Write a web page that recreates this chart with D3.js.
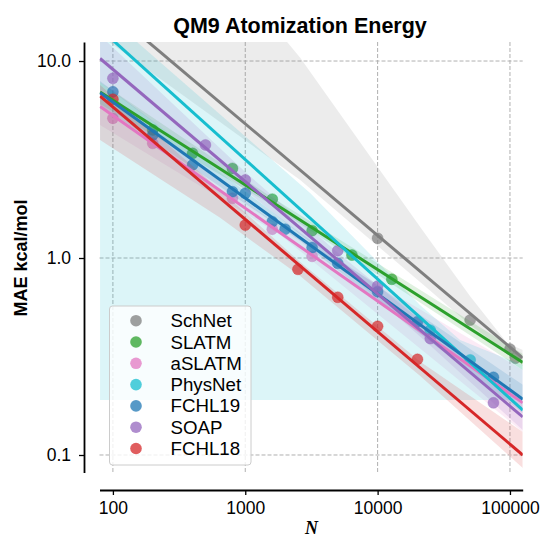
<!DOCTYPE html>
<html>
<head>
<meta charset="utf-8">
<script src="https://cdn.jsdelivr.net/npm/d3@7"></script>
<style>
  body { margin: 0; background: #fff; }
  svg { display: block; }
  text { font-family: 'Liberation Sans', Arial, sans-serif; }
</style>
</head>
<body>
<div id="app"></div>
<script>
// --- data ---
const methods = ['SchNet', 'SLATM', 'aSLATM', 'PhysNet', 'FCHL19', 'SOAP', 'FCHL18'];
const colors = ['#7f7f7f', '#2ca02c', '#e377c2', '#17becf', '#1f77b4', '#9467bd', '#d62728'];

const xTicks = [100, 1000, 10000, 100000];
const yTicks = [0.1, 1, 10];

// training set sizes / MAE (kcal/mol) per method
const schnetN = [10000, 50000, 100000, 110000];
const schnetMAE = [1.26, 0.484, 0.345, 0.31];
const slatmN = [200, 400, 800, 1600, 3200, 6400, 12800];
const slatmMAE = [4.47, 3.4, 2.85, 1.99, 1.376, 1.035, 0.78];
const aslatmN = [100, 200, 800, 1600, 3200];
const aslatmMAE = [5.12, 3.82, 2.01, 1.40, 1.02];
const physnetN = [25000, 50000];
const physnetMAE = [0.43, 0.304];
const fchl19N = [100, 200, 400, 800, 1000, 1600, 2000, 3200, 5000, 10000, 20000, 75000];
const fchl19MAE = [6.98, 4.21, 2.97, 2.17, 2.13, 1.53, 1.40, 1.13, 0.94, 0.675, 0.475, 0.248];
const soapN = [100, 500, 1000, 5000, 10000, 25000, 75000];
const soapMAE = [8.17, 3.75, 2.49, 1.09, 0.72, 0.39, 0.184];
const fchl18N = [100, 1000, 2500, 5000, 10000, 20000];
const fchl18MAE = [6.4, 1.47, 0.876, 0.632, 0.45, 0.306];

// fitted learning curves: MAE at N = 80 and N = 125000
const fitN = [80, 125000];
const fitMAE = [
  [20.1, 0.311],
  [6.96, 0.295],
  [5.88, 0.184],
  [14.6, 0.169],
  [6.9, 0.192],
  [10.3, 0.156],
  [6.64, 0.1]
];

// confidence bands: N, lower, upper
const schnetBandN = [80, 2070, 2600, 21700, 50000, 95000, 125000];
const schnetBandLo = [13.5, 2.78, 2.49, 0.74, 0.457, 0.333, 0.283];
const schnetBandHi = [200, 12.5, 10.4, 1.39, 0.64, 0.37, 0.341];
const slatmBandN = [80, 1540, 125000];
const slatmBandLo = [6.05, 1.88, 0.27];
const slatmBandHi = [7.8, 2.06, 0.326];
const aslatmBandN = [80, 1840, 125000];
const aslatmBandLo = [4.73, 1.31, 0.131];
const aslatmBandHi = [6.96, 1.44, 0.27];
const physnetBandN = [80, 3090, 20900, 42000, 125000];
const physnetBandLo = [0.19, 0.19, 0.19, 0.19, 0.19];
const physnetBandHi = [18.2, 2.14, 0.577, 0.384, 0.286];
const fchl19BandN = [80, 2600, 125000];
const fchl19BandLo = [5.98, 1.22, 0.163];
const fchl19BandHi = [7.92, 1.34, 0.227];
const soapBandN = [80, 1000, 5200, 25000, 125000];
const soapBandLo = [7.8, 2.21, 0.91, 0.36, 0.134];
const soapBandHi = [13.5, 2.73, 1.04, 0.44, 0.186];
const fchl18BandN = [80, 646, 2600, 21000, 125000];
const fchl18BandLo = [3.97, 1.6, 0.81, 0.252, 0.086];
const fchl18BandHi = [7.55, 2.21, 0.954, 0.297, 0.131];

const pointsN = [schnetN, slatmN, aslatmN, physnetN, fchl19N, soapN, fchl18N];
const pointsMAE = [schnetMAE, slatmMAE, aslatmMAE, physnetMAE, fchl19MAE, soapMAE, fchl18MAE];
const bandN = [schnetBandN, slatmBandN, aslatmBandN, physnetBandN, fchl19BandN, soapBandN, fchl18BandN];
const bandLo = [schnetBandLo, slatmBandLo, aslatmBandLo, physnetBandLo, fchl19BandLo, soapBandLo, fchl18BandLo];
const bandHi = [schnetBandHi, slatmBandHi, aslatmBandHi, physnetBandHi, fchl19BandHi, soapBandHi, fchl18BandHi];

const series = methods.map((name, i) => ({
  name,
  color: colors[i],
  points: pointsN[i].map((n, j) => ({ n, mae: pointsMAE[i][j] })),
  fit: fitN.map((n, j) => ({ n, mae: fitMAE[i][j] })),
  band: bandN[i].map((n, j) => ({ n, lo: bandLo[i][j], hi: bandHi[i][j] }))
}));

// --- layout ---
const width = 543, height = 537;
const plot = { left: 99.5, right: 522.7, top: 42, bottom: 472.5 };

const svg = d3.select('#app').append('svg')
  .attr('width', width)
  .attr('height', height);

const x = d3.scaleLog().domain([79.2, 124800]).range([plot.left, plot.right]);
const y = d3.scaleLog().domain([0.0815, 12.49]).range([plot.bottom, plot.top]);

svg.append('defs').append('clipPath')
  .attr('id', 'clip')
  .append('rect')
  .attr('x', plot.left)
  .attr('y', plot.top)
  .attr('width', plot.right - plot.left)
  .attr('height', plot.bottom - plot.top);

// grid
const grid = svg.append('g')
  .attr('stroke', '#b0b0b0')
  .attr('stroke-width', 1)
  .attr('stroke-dasharray', '4,2');

grid.selectAll('.vgrid')
  .data(xTicks)
  .enter()
  .append('line')
  .attr('x1', d => x(d)).attr('x2', d => x(d))
  .attr('y1', plot.top).attr('y2', plot.bottom);

grid.selectAll('.hgrid')
  .data(yTicks)
  .enter()
  .append('line')
  .attr('x1', plot.left).attr('x2', plot.right)
  .attr('y1', d => y(d)).attr('y2', d => y(d));

const body = svg.append('g').attr('clip-path', 'url(#clip)');

const area = d3.area()
  .x(d => x(d.n))
  .y0(d => y(d.lo))
  .y1(d => y(d.hi));

const line = d3.line()
  .x(d => x(d.n))
  .y(d => y(d.mae));

// points and bands, one series after another
series.forEach(s => {
  body.append('g')
    .selectAll('circle')
    .data(s.points)
    .enter()
    .append('circle')
    .attr('cx', d => x(d.n))
    .attr('cy', d => y(d.mae))
    .attr('r', 5.5)
    .attr('fill', s.color)
    .attr('fill-opacity', 0.7)
    .attr('stroke', s.color)
    .attr('stroke-opacity', 0.35)
    .attr('stroke-width', 1);

  body.append('path')
    .datum(s.band)
    .attr('d', area)
    .attr('fill', s.color)
    .attr('fill-opacity', 0.15);
});

// fit lines on top
series.forEach(s => {
  body.append('path')
    .datum(s.fit)
    .attr('d', line)
    .attr('fill', 'none')
    .attr('stroke', s.color)
    .attr('stroke-width', 3);
});

// axes
const xAxis = d3.axisBottom(x)
  .tickValues(xTicks)
  .tickFormat(d3.format('d'))
  .tickSize(5)
  .tickSizeOuter(0)
  .tickPadding(7);

const gx = svg.append('g')
  .attr('transform', 'translate(0,490)')
  .call(xAxis);

const yAxis = d3.axisLeft(y)
  .tickValues(yTicks)
  .tickFormat(d3.format('.1f'))
  .tickSize(5)
  .tickSizeOuter(0)
  .tickPadding(8);

const gy = svg.append('g')
  .attr('transform', 'translate(84,0)')
  .call(yAxis);

[gx, gy].forEach(g => {
  g.select('.domain').attr('stroke', '#000').attr('stroke-width', 1.8);
  g.selectAll('.tick line').attr('stroke', '#000').attr('stroke-width', 1.3);
  g.selectAll('.tick text')
    .attr('fill', '#000')
    .style('font-size', '17.5px')
    .style('font-family', "'Liberation Sans', Arial, sans-serif");
});

// titles
svg.append('text')
  .attr('x', 300)
  .attr('y', 33)
  .attr('text-anchor', 'middle')
  .style('font-size', '21.5px')
  .style('font-weight', 'bold')
  .text('QM9 Atomization Energy');

svg.append('text')
  .attr('transform', 'translate(27,258) rotate(-90)')
  .attr('text-anchor', 'middle')
  .style('font-size', '18px')
  .style('font-weight', 'bold')
  .text('MAE kcal/mol');

svg.append('text')
  .attr('x', 311.5)
  .attr('y', 534)
  .attr('text-anchor', 'middle')
  .style('font-family', "'Liberation Serif', 'DejaVu Serif', serif")
  .style('font-style', 'italic')
  .style('font-weight', 'bold')
  .style('font-size', '18px')
  .text('N');

// legend
const legend = svg.append('g').attr('transform', 'translate(109.5,306)');

legend.append('rect')
  .attr('width', 141.5)
  .attr('height', 159)
  .attr('rx', 3)
  .attr('fill', '#fff')
  .attr('fill-opacity', 0.8)
  .attr('stroke', '#cccccc')
  .attr('stroke-width', 1);

const items = legend.selectAll('.item')
  .data(series)
  .enter()
  .append('g')
  .attr('transform', (d, i) => 'translate(0,' + (14.7 + i * 21.3) + ')');

items.append('circle')
  .attr('cx', 26.5)
  .attr('cy', 0)
  .attr('r', 5.8)
  .attr('fill', d => d.color)
  .attr('fill-opacity', 0.75);

items.append('text')
  .attr('x', 61)
  .attr('y', 0)
  .attr('dy', '0.35em')
  .style('font-size', '18.7px')
  .text(d => d.name);
</script>
</body>
</html>
